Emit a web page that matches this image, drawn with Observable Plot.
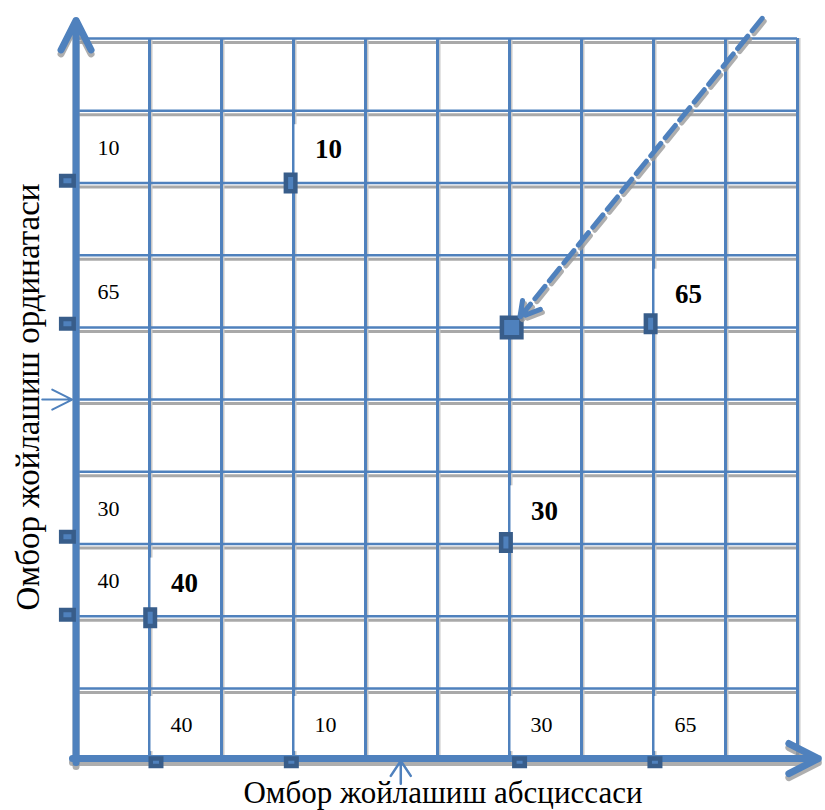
<!DOCTYPE html>
<html><head><meta charset="utf-8">
<script src="https://cdn.jsdelivr.net/npm/d3@7"></script>
<script src="https://cdn.jsdelivr.net/npm/@observablehq/plot@0.6"></script>
<style>html,body{margin:0;padding:0;background:#fff;}</style>
</head><body><div id="chart"></div>
<script>
// ---- data ----
const gridXs = [1, 2, 3, 4, 5, 6, 7, 8, 9, 10];
const gridYs = [1, 2, 3, 4, 5, 6, 7, 8, 9, 10];
const axisXPos = -0.02;
const axisYPos = 0.03;
const axisXEnd = 10.29;
const axisYEnd = 10.25;
const pointLabels = ["40", "10", "30", "65"];
const pointXs = [1.01, 2.96, 5.95, 7.96];
const pointYs = [1.98, 8.0, 3.02, 6.05];
const leftMarkYs = [2.02, 8.03, 3.10, 6.05];
const bottomMarkXs = [1.09, 2.97, 6.14, 8.02];
const labelCellXs = [1, 3, 6, 8];
const labelCellYs = [2, 8, 3, 6];
const centreXY = [6.03, 6.0];
const dashStartXY = [9.51, 10.28];
const midX = 4.49;
const midY = 5.0;
const xTitle = "Омбор жойлашиш абсциссаси";
const yTitle = "Омбор жойлашиш ординатаси";

// ---- tables ----
const pts = pointLabels.map((n, i) => ({name: n, x: pointXs[i], y: pointYs[i],
  lm: leftMarkYs[i], bm: bottomMarkXs[i], cx: labelCellXs[i], cy: labelCellYs[i]}));

const BLUE = "#4f81bd", DARK = "#385d8a", SHADOW = "#9a9a9a";
const rectSym = (w, h) => ({draw(ctx) {
  ctx.moveTo(-w / 2, -h / 2); ctx.lineTo(w / 2, -h / 2);
  ctx.lineTo(w / 2, h / 2); ctx.lineTo(-w / 2, h / 2); ctx.closePath();
}});
// open arrow shape for Plot.vector, with a fixed-size head
const openArrow = (a, b) => ({draw(ctx, l) {
  ctx.moveTo(0, 0); ctx.lineTo(0, -l);
  ctx.moveTo(-a, -l + b); ctx.lineTo(0, -l); ctx.lineTo(a, -l + b);
}});

const axes = [
  {x1: axisXPos, y1: axisYPos - 0.055, x2: axisXPos, y2: axisYEnd},
  {x1: axisXPos - 0.05, y1: axisYPos, x2: axisXEnd, y2: axisYPos}
];
const dash = [{x1: dashStartXY[0], y1: dashStartXY[1], x2: centreXY[0], y2: centreXY[1]}];

const chart = Plot.plot({
  width: 825, height: 810, margin: 0,
  x: {domain: [0, 10], range: [77, 797], axis: null},
  y: {domain: [1, 10], range: [688, 38], axis: null},
  style: {background: "#fff", fontFamily: "'Liberation Serif', 'Times New Roman', serif"},
  marks: [
    // grid shadows
    Plot.ruleY(gridYs, {y: d => d, x1: 0, x2: 10, stroke: SHADOW, strokeWidth: 3, dy: 4, strokeOpacity: 0.85}),
    Plot.ruleX(gridXs, {x: d => d, y1: axisYPos, y2: 10, stroke: "#c8c8c8", strokeWidth: 2, dx: 2}),
    // grid
    Plot.ruleY(gridYs, {y: d => d, x1: 0, x2: 10, stroke: BLUE, strokeWidth: 2.5}),
    Plot.ruleX(gridXs, {x: d => d, y1: axisYPos, y2: 10, stroke: BLUE, strokeWidth: 3}),
    // label boxes
    Plot.rect(pts, {x1: 0, x2: 1, y1: d => d.cy, y2: d => d.cy + 1, fill: "#fff", insetLeft: 2, insetRight: 1.5, insetTop: 14, insetBottom: 8}),
    Plot.rect(pts, {x1: d => d.cx, x2: d => d.cx + 1, y1: d => d.cy, y2: d => d.cy + 1, fill: "#fff", insetLeft: 1.5, insetRight: 1.5, insetTop: 14, insetBottom: 8}),
    Plot.rect(pts, {x1: d => d.cx, x2: d => d.cx + 1, y1: axisYPos, y2: 1, fill: "#fff", insetLeft: 1.5, insetRight: 1.5, insetTop: 8, insetBottom: 7}),
    // labels
    Plot.text(pts, {x: 0.5, y: d => d.cy + 0.5, text: "name", fontSize: 22, dx: -5, dy: 1, fill: "#000"}),
    Plot.text(pts, {x: d => d.cx + 0.5, y: d => d.cy + 0.5, text: "name", fontSize: 27, fontWeight: "bold", dx: -1, dy: 3, fill: "#000"}),
    Plot.text(pts, {x: d => d.cx + 0.5, y: (axisYPos + 1) / 2, text: "name", fontSize: 22, dx: -4, dy: 1, fill: "#000"}),
    // axes with shadow
    Plot.arrow(axes, {x1: "x1", y1: "y1", x2: "x2", y2: "y2", stroke: SHADOW, strokeWidth: 7, dy: 4, strokeOpacity: 0.8, headLength: 7.1, headAngle: 54, strokeLinecap: "round", strokeLinejoin: "miter"}),
    Plot.arrow(axes, {x1: "x1", y1: "y1", x2: "x2", y2: "y2", stroke: BLUE, strokeWidth: 7, headLength: 7.1, headAngle: 54, strokeLinecap: "round", strokeLinejoin: "miter"}),
    // small midpoint arrows
    Plot.vector([midX], {x: d => d, y: -0.32, length: 23, rotate: 0, anchor: "start", shape: openArrow(10, 15), stroke: BLUE, strokeWidth: 2.5}),
    Plot.vector([midY], {x: -0.49, y: d => d, length: 30, rotate: 90, anchor: "start", shape: openArrow(10, 20), stroke: BLUE, strokeWidth: 2}),
    // markers
    Plot.dot(pts, {x: axisXPos - 0.12, y: "lm", symbol: rectSym(12.5, 9.5), fill: BLUE, stroke: DARK, strokeWidth: 4.5}),
    Plot.dot(pts, {x: "bm", y: axisYPos - 0.05, symbol: rectSym(10.5, 7.5), fill: BLUE, stroke: DARK, strokeWidth: 4.5}),
    Plot.dot(pts, {x: "x", y: "y", symbol: rectSym(9.5, 16.5), fill: BLUE, stroke: DARK, strokeWidth: 4.5}),
    // centre
    Plot.dot([centreXY], {x: d => d[0], y: d => d[1], symbol: rectSym(19.5, 19.5), fill: BLUE, stroke: DARK, strokeWidth: 4.5}),
    // dashed arrow
    Plot.arrow(dash, {x1: "x1", y1: "y1", x2: "x2", y2: "y2", stroke: SHADOW, strokeWidth: 5, dx: 2, dy: 3, strokeOpacity: 0.8, strokeDasharray: "16,7", headLength: 6.6, headAngle: 60, insetEnd: 13}),
    Plot.arrow(dash, {x1: "x1", y1: "y1", x2: "x2", y2: "y2", stroke: BLUE, strokeWidth: 5, strokeDasharray: "16,7", headLength: 6.6, headAngle: 60, insetEnd: 13}),
    // titles
    Plot.text([xTitle], {text: d => d, frameAnchor: "bottom", lineAnchor: "bottom", textAnchor: "middle", dx: 30, dy: -8, fontSize: 31, fill: "#000"}),
    Plot.text([yTitle], {text: d => d, frameAnchor: "left", lineAnchor: "bottom", textAnchor: "middle", rotate: -90, dx: 38, dy: -8.5, fontSize: 33, fill: "#000"})
  ]
});
document.getElementById("chart").appendChild(chart);
</script>
</body></html>
